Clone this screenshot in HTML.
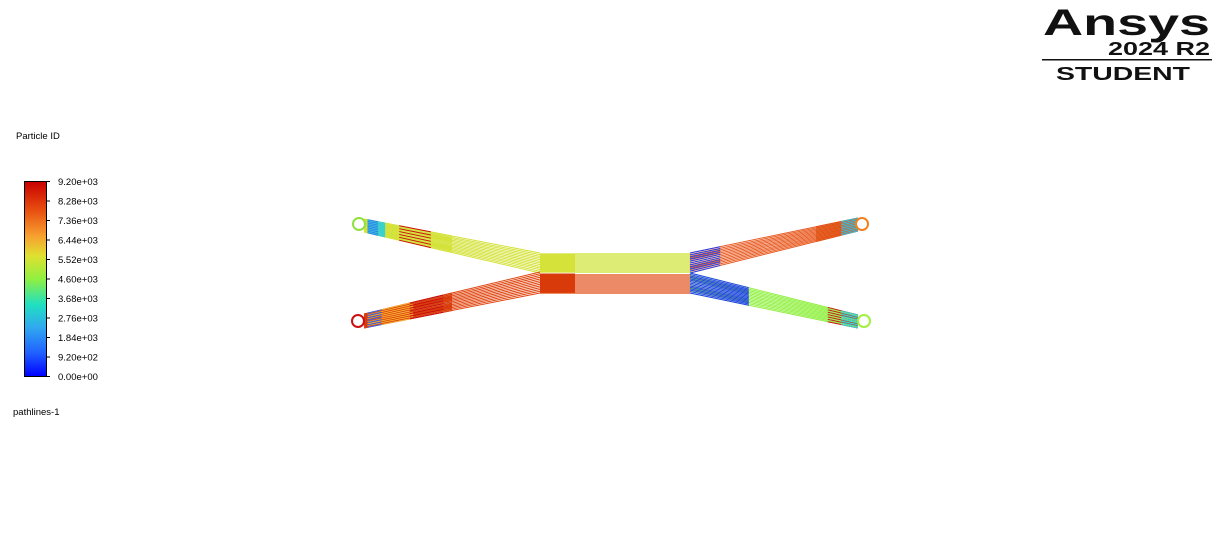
<!DOCTYPE html>
<html><head><meta charset="utf-8"><style>
html,body{margin:0;padding:0;background:#fff;}
body{width:1222px;height:546px;position:relative;overflow:hidden;font-family:"Liberation Sans",sans-serif;}
</style></head><body>
<svg id="chart" width="1222" height="546" viewBox="0 0 1222 546" xmlns="http://www.w3.org/2000/svg">
<defs>
<linearGradient id="jet" x1="0" y1="1" x2="0" y2="0">
<stop offset="0" stop-color="#0000ff"/><stop offset="0.12" stop-color="#2060ff"/><stop offset="0.25" stop-color="#30a8f0"/><stop offset="0.37" stop-color="#20e0c0"/><stop offset="0.5" stop-color="#90f040"/><stop offset="0.62" stop-color="#e0e030"/><stop offset="0.72" stop-color="#f8a030"/><stop offset="0.85" stop-color="#e85010"/><stop offset="1" stop-color="#c80000"/>
</linearGradient>
</defs>
<text x="16" y="139" font-size="9.5" fill="#000">Particle ID</text>
<rect x="24.5" y="181.5" width="22" height="195" fill="url(#jet)" stroke="#000" stroke-width="1"/>
<g id="ticks"></g>
<text x="13" y="415" font-size="9.5" fill="#000">pathlines-1</text>
<g id="paths"></g>
<g>
<text x="1043" y="35" textLength="167" lengthAdjust="spacingAndGlyphs" font-size="37" font-weight="bold" fill="#111">Ansys</text>
<text x="1108" y="55" textLength="102" lengthAdjust="spacingAndGlyphs" font-size="18" font-weight="bold" fill="#111">2024 R2</text>
<rect x="1042" y="59" width="170" height="1.5" fill="#111"/>
<text x="1056" y="80" textLength="134" lengthAdjust="spacingAndGlyphs" font-size="18" font-weight="bold" fill="#111">STUDENT</text>
</g>
</svg>
<script>
const tickLabels=["0.00e+00","9.20e+02","1.84e+03","2.76e+03","3.68e+03","4.60e+03","5.52e+03","6.44e+03","7.36e+03","8.28e+03","9.20e+03"];
const tickValues=[0,920,1840,2760,3680,4600,5520,6440,7360,8280,9200];
const NS="http://www.w3.org/2000/svg";
const tg=document.getElementById('ticks');
const yAxis=v=>376.5-(v/9200)*195;
tickValues.forEach((v,i)=>{
  const t=document.createElementNS(NS,'text');
  
  
  t.setAttribute('x',58);t.setAttribute('y',yAxis(v)+3.5);
  t.setAttribute('font-size','9.5');t.textContent=tickLabels[i];tg.appendChild(t);
  const l=document.createElementNS(NS,'line');
  
  
  l.setAttribute('x1',47);l.setAttribute('x2',50);l.setAttribute('y1',yAxis(v));l.setAttribute('y2',yAxis(v));l.setAttribute('stroke','#000');tg.appendChild(l);
});
const pg=document.getElementById('paths');
function band(x1,t1,b1,x2,t2,b2,color,n,w){
  for(let i=0;i<=n;i++){
    const f=i/n;const l=document.createElementNS(NS,'line');
    
    
    l.setAttribute('x1',x1);l.setAttribute('y1',t1+(b1-t1)*f);
    l.setAttribute('x2',x2);l.setAttribute('y2',t2+(b2-t2)*f);
    l.setAttribute('stroke',color);l.setAttribute('stroke-width',w||1);pg.appendChild(l);
  }
}
function lerp(a,b,f){return a+(b-a)*f;}
function armPart(x1,t1,b1,x2,t2,b2,fa,fb,color,n){
  band(lerp(x1,x2,fa),lerp(t1,t2,fa),lerp(b1,b2,fa),lerp(x1,x2,fb),lerp(t1,t2,fb),lerp(b1,b2,fb),color,n);
}
// upper-left arm
armPart(364,219,232,540,253,273,0,1,'#d4e23a',12);
armPart(364,219,232,540,253,273,0,0.5,'#d4e23a',14);
armPart(364,219,232,540,253,273,0.02,0.12,'#30d0d8',14);
armPart(364,219,232,540,253,273,0.02,0.08,'#3080f0',8);
armPart(364,219,232,540,253,273,0.2,0.38,'#cc1010',5);
// lower-left arm
armPart(364,314,328,540,272,293,0,1,'#e0450f',12);
armPart(364,314,328,540,272,293,0,0.5,'#d83a0a',14);
armPart(364,314,328,540,272,293,0.02,0.28,'#f8b030',8);
armPart(364,314,328,540,272,293,0.02,0.1,'#3060f0',6);
armPart(364,314,328,540,272,293,0.26,0.45,'#c81010',6);
// center channel
band(540,254,272,690,254,272,'#c8e020',9,1.3);
band(540,254,272,575,254,272,'#d4e23a',18);
band(540,275,293,690,275,293,'#e0450f',9,1.3);
band(540,274,292,575,274,292,'#d83a0a',18);
// upper-right arm
armPart(690,253,273,858,218,231,0,1,'#e85a20',12);
armPart(690,253,273,858,218,231,0,0.18,'#2040f0',10);
armPart(690,253,273,858,218,231,0.75,1,'#e05010',12);
armPart(690,253,273,858,218,231,0.9,1,'#30c0e0',8);
// lower-right arm
armPart(690,273,293,858,315,328,0,1,'#90f040',12);
armPart(690,273,293,858,315,328,0,0.35,'#2040f0',14);
armPart(690,273,293,858,315,328,0.82,1,'#c81010',6);
armPart(690,273,293,858,315,328,0.9,1,'#30d0d8',8);
// inlet/outlet rings
const rings=[[359,224,'#90e040'],[358,321,'#cc1010'],[862,224,'#f08020'],[864,321,'#a0f040']];
rings.forEach(r=>{
  const c=document.createElementNS(NS,'circle');
  
  
  c.setAttribute('cx',r[0]);c.setAttribute('cy',r[1]);c.setAttribute('r',6);
  c.setAttribute('fill','#fff');c.setAttribute('stroke',r[2]);c.setAttribute('stroke-width','2');pg.appendChild(c);
});
</script>
</body></html>
